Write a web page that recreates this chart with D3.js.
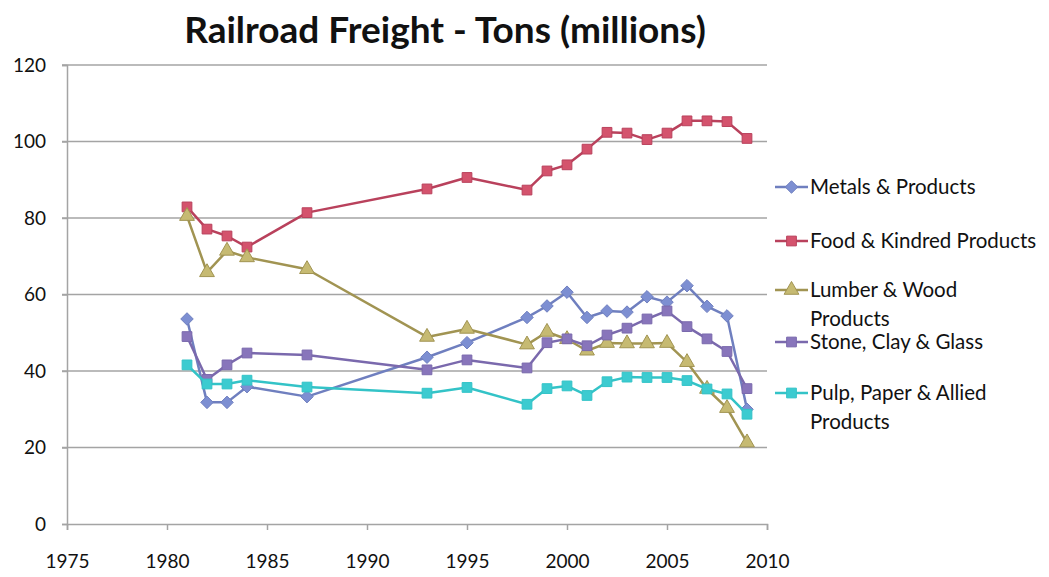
<!DOCTYPE html>
<html>
<head>
<meta charset="utf-8">
<script src="https://cdn.jsdelivr.net/npm/d3@7"></script>
<style>
  html, body { margin:0; padding:0; background:#fff; }
  svg { display:block; font-family: Lato, "Open Sans", sans-serif; }
</style>
</head>
<body>
<svg id="chart" width="1049" height="577"></svg>
<script>
// data
const years = [1981,1982,1983,1984,1987,1993,1995,1998,1999,2000,2001,2002,2003,2004,2005,2006,2007,2008,2009];
const metals = [53.6,31.8,31.8,35.9,33.3,43.6,47.4,54.0,57.0,60.6,54.0,55.7,55.4,59.4,58.0,62.3,56.9,54.4,30.0];
const food   = [82.9,77.1,75.3,72.4,81.4,87.6,90.6,87.3,92.3,93.9,98.0,102.4,102.2,100.5,102.2,105.4,105.4,105.2,100.8];
const lumber = [80.5,65.8,71.4,69.7,66.6,48.9,51.0,46.9,50.2,48.3,45.3,47.3,47.2,47.2,47.3,42.3,35.3,30.3,21.3];
const stone  = [49.0,37.8,41.6,44.7,44.2,40.3,42.9,40.8,47.4,48.4,46.6,49.4,51.2,53.6,55.7,51.6,48.4,45.1,35.4];
const pulp   = [41.6,36.6,36.6,37.6,35.8,34.2,35.7,31.3,35.4,36.1,33.6,37.2,38.4,38.3,38.3,37.5,35.3,34.0,28.7];

const yTicks = [0,20,40,60,80,100,120];
const xTicks = [1975,1980,1985,1990,1995,2000,2005,2010];

const seriesList = [
  { name:['Metals & Products'],            values:metals, line:'#6f7fbf', fill:'#7d8fd2', shape:d3.symbolDiamond2 },
  { name:['Food & Kindred Products'],      values:food,   line:'#b9415c', fill:'#d4536d', shape:d3.symbolSquare },
  { name:['Lumber & Wood','Products'],     values:lumber, line:'#a19452', fill:'#c6ba72', shape:d3.symbolTriangle },
  { name:['Stone, Clay & Glass'],          values:stone,  line:'#7a69ad', fill:'#8875bb', shape:d3.symbolSquare },
  { name:['Pulp, Paper & Allied','Products'], values:pulp, line:'#33c3c7', fill:'#3ccbd0', shape:d3.symbolSquare },
];
const legendY = [187, 241, 290, 342, 393];

const svg = d3.select('#chart');
const x = d3.scaleLinear().domain([1975, 2010]).range([67, 767]);
const y = d3.scaleLinear().domain([0, 120]).range([524, 65]);

// title
svg.append('text')
  .attr('x', 445).attr('y', 43)
  .attr('text-anchor', 'middle')
  .attr('font-size', 37).attr('font-weight', 700)
  .attr('fill', '#111')
  .text('Railroad Freight - Tons (millions)');

// gridlines
svg.append('g')
  .selectAll('line').data(yTicks.filter(d => d > 0)).join('line')
  .attr('x1', 62).attr('x2', 767)
  .attr('y1', d => y(d)).attr('y2', d => y(d))
  .attr('stroke', '#a4a4a4').attr('stroke-width', 1.5);

// y axis
const yAxis = svg.append('g')
  .attr('transform', `translate(${x(1975)},0)`)
  .call(d3.axisLeft(y).tickValues(yTicks).tickSize(5).tickPadding(16));
// x axis
const xAxis = svg.append('g')
  .attr('transform', `translate(0,${y(0)})`)
  .call(d3.axisBottom(x).tickValues(xTicks).tickFormat(d3.format('d')).tickSize(6).tickPadding(25));

[yAxis, xAxis].forEach(a => {
  a.select('.domain').attr('stroke', '#a4a4a4').attr('stroke-width', 1.5);
  a.selectAll('.tick line').attr('stroke', '#a4a4a4').attr('stroke-width', 1.5);
  a.selectAll('.tick text').attr('font-size', 19).attr('fill', '#111')
    .attr('font-family', 'Lato, sans-serif');
});

// series
const lineGen = d3.line().x((d, i) => x(years[i])).y(d => y(d));
const symSize = s => s === d3.symbolTriangle ? 95 : (s === d3.symbolDiamond2 ? 100 : 95);

seriesList.forEach((s, si) => {
  const g = svg.append('g');
  g.append('path')
    .datum(s.values)
    .attr('d', lineGen)
    .attr('fill', 'none')
    .attr('stroke', s.line)
    .attr('stroke-width', 2.5)
    .attr('stroke-linejoin', 'round');
  g.selectAll('path.m').data(s.values).join('path')
    .attr('class', 'm')
    .attr('d', d3.symbol().type(s.shape).size(symSize(s.shape)))
    .attr('transform', (d, i) => `translate(${x(years[i])},${y(d)})`)
    .attr('fill', s.fill)
    .attr('stroke', s.line)
    .attr('stroke-width', 1);

  // legend
  const ly = legendY[si];
  const lg = svg.append('g').attr('transform', `translate(775,${ly})`);
  lg.append('line').attr('x1', 0).attr('x2', 33).attr('y1', 0).attr('y2', 0)
    .attr('stroke', s.line).attr('stroke-width', 2.5);
  lg.append('path')
    .attr('d', d3.symbol().type(s.shape).size(symSize(s.shape)))
    .attr('transform', 'translate(16.5,0)')
    .attr('fill', s.fill).attr('stroke', s.line).attr('stroke-width', 1);
  s.name.forEach((t, k) => {
    lg.append('text')
      .attr('x', 35).attr('y', k * 29)
      .attr('dy', '0.35em')
      .attr('font-size', 20.5).attr('fill', '#111')
      .text(t);
  });
});
</script>
</body>
</html>
